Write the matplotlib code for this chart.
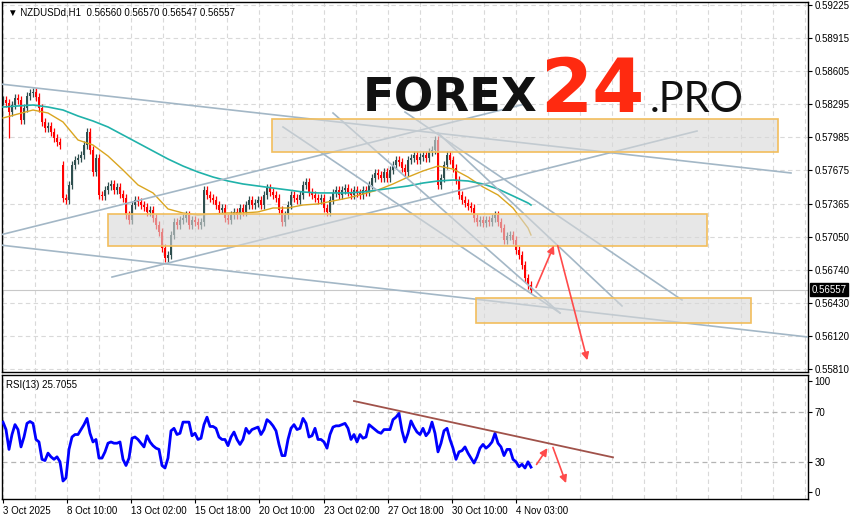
import numpy as np
import matplotlib.pyplot as plt
from matplotlib.patches import Rectangle, FancyArrowPatch
from matplotlib.transforms import blended_transform_factory

plt.rcParams['font.family'] = ['Liberation Sans', 'DejaVu Sans']

# ---- data (NZDUSD H1, one value per 3 hours) ----
closes = [0.58335, 0.58307, 0.58222, 0.58288, 0.58354, 0.58335, 0.58147, 0.58260, 0.58372, 0.58400,
          0.58410, 0.58363, 0.58260, 0.58129, 0.58073, 0.58091, 0.58035, 0.57979, 0.57941, 0.57913,
          0.57417, 0.57398, 0.57539, 0.57726, 0.57773, 0.57791, 0.57819, 0.57913, 0.58035, 0.57866,
          0.57660, 0.57791, 0.57445, 0.57436, 0.57492, 0.57529, 0.57548, 0.57492, 0.57520, 0.57454,
          0.57417, 0.57258, 0.57210, 0.57351, 0.57398, 0.57379, 0.57351, 0.57333, 0.57286, 0.57304,
          0.57229, 0.57164, 0.57098, 0.56948, 0.56855, 0.56883, 0.57070, 0.57192, 0.57164, 0.57210,
          0.57229, 0.57258, 0.57164, 0.57210, 0.57192, 0.57164, 0.57192, 0.57492, 0.57445, 0.57417,
          0.57398, 0.57351, 0.57304, 0.57323, 0.57229, 0.57210, 0.57258, 0.57286, 0.57258, 0.57323,
          0.57286, 0.57351, 0.57398, 0.57351, 0.57370, 0.57398, 0.57351, 0.57445, 0.57510, 0.57473,
          0.57445, 0.57417, 0.57304, 0.57192, 0.57258, 0.57351, 0.57445, 0.57417, 0.57398, 0.57445,
          0.57539, 0.57567, 0.57473, 0.57445, 0.57417, 0.57398, 0.57417, 0.57323, 0.57286, 0.57398,
          0.57464, 0.57492, 0.57445, 0.57492, 0.57510, 0.57473, 0.57445, 0.57492, 0.57464, 0.57445,
          0.57492, 0.57473, 0.57539, 0.57604, 0.57651, 0.57632, 0.57604, 0.57660, 0.57604, 0.57679,
          0.57726, 0.57773, 0.57754, 0.57698, 0.57660, 0.57773, 0.57791, 0.57819, 0.57773, 0.57801,
          0.57819, 0.57791, 0.57848, 0.57866, 0.57960, 0.57539, 0.57604, 0.57726, 0.57819, 0.57773,
          0.57698, 0.57585, 0.57445, 0.57398, 0.57370, 0.57342, 0.57323, 0.57229, 0.57192, 0.57210,
          0.57182, 0.57210, 0.57192, 0.57229, 0.57258, 0.57192, 0.57136, 0.57023, 0.57061, 0.57070,
          0.57023, 0.56930, 0.56883, 0.56789, 0.56667, 0.56601, 0.56557]
first_open = 0.58320
gap_open = {20: 0.57726}          # Monday gap candle
spike_low = {2: 0.57979}

# moving averages, every 5th bar (last point = last bar)
ma_fast = [0.58166, 0.58204, 0.58241, 0.58213, 0.58129, 0.57960, 0.57913, 0.57810, 0.57679, 0.57539,
           0.57464, 0.57314, 0.57276, 0.57257, 0.57267, 0.57276, 0.57276, 0.57286, 0.57323, 0.57323,
           0.57351, 0.57361, 0.57389, 0.57417, 0.57454, 0.57492, 0.57548, 0.57613, 0.57670, 0.57716,
           0.57688, 0.57613, 0.57520, 0.57445, 0.57323, 0.57136, 0.57070]
ma_slow = [0.58269, 0.58279, 0.58288, 0.58269, 0.58241, 0.58185, 0.58138, 0.58082, 0.58007, 0.57932,
           0.57857, 0.57782, 0.57716, 0.57660, 0.57613, 0.57576, 0.57548, 0.57529, 0.57510, 0.57492,
           0.57473, 0.57464, 0.57464, 0.57464, 0.57473, 0.57492, 0.57510, 0.57529, 0.57557, 0.57576,
           0.57585, 0.57576, 0.57548, 0.57501, 0.57436, 0.57370, 0.57351]

rsi = [62, 56, 40, 52, 60, 56, 42, 50, 61, 62.5, 61, 48, 46, 32, 31, 37, 34, 32, 34, 30,
       14.5, 17, 40, 50, 52, 52, 56, 60, 65, 53, 46, 48, 33, 33, 38, 45, 46, 45, 45, 46,
       32, 27, 33, 49, 50, 48, 45, 42, 51, 46, 43, 41, 40, 27, 25, 33, 55, 57, 52, 53,
       62, 62, 62, 51, 53, 48, 49, 60, 66, 58.5, 58.5, 57, 50, 48, 48, 43, 50, 54, 48, 44,
       48, 57, 53, 56, 57, 58, 52, 56, 64, 62,
       59, 55, 44, 35, 35, 48, 57, 60, 56, 57, 65, 61, 50, 51, 57, 48, 48, 46, 41, 52,
       58, 59, 59, 60, 61, 57, 48, 52, 46, 52, 49, 50, 60, 58, 56, 54, 53, 56, 56, 56,
       64, 66, 69, 55, 46, 53, 63, 58, 54, 52, 57, 51, 54, 62, 53, 38, 45, 55, 57, 48,
       41, 32, 38, 39, 42, 37, 33, 29, 34, 41, 44, 41, 43, 46, 53, 45, 42, 35, 40, 40,
       32, 30, 26, 28, 25, 30, 25.7]

price_ticks = [0.59225, 0.58915, 0.58605, 0.58295, 0.57985, 0.57675, 0.57365,
               0.57050, 0.56740, 0.56430, 0.56120, 0.55810]
date_labels = ['3 Oct 2025', '8 Oct 10:00', '13 Oct 02:00', '15 Oct 18:00', '20 Oct 10:00',
               '23 Oct 02:00', '27 Oct 18:00', '30 Oct 10:00', '4 Nov 03:00']

# zones: (x start, x end, low price, high price) in bar-hours
zones = [(272, 778, 0.57848, 0.58157), (108, 707, 0.56967, 0.57267), (476, 751, 0.56245, 0.56480)]
# trend lines: (x1, p1, x2, p2)
trend_lines = [(0, 0.58485, 791, 0.57651), (0, 0.56976, 808, 0.56114), (0, 0.57070, 525, 0.58297),
               (112, 0.56676, 697, 0.58044), (283, 0.58082, 560, 0.56339), (333, 0.58213, 560, 0.56339),
               (438, 0.58026, 622, 0.56405), (405, 0.58222, 682, 0.56461)]
price_arrows = [(535, 0.56555, 555, 0.56995), (557, 0.56995, 588, 0.55871)]
rsi_trend = (354, 79.0, 613, 33.6)
rsi_arrows = [(535, 26.0, 549, 42.9), (552, 43.7, 567, 10.7)]

W, H = 854, 520
fig = plt.figure(figsize=(W / 100, H / 100), dpi=100)
ax = fig.add_axes([2 / W, 1 - 371.5 / H, 806 / W, 369.5 / H])
ax2 = fig.add_axes([2 / W, 1 - 499 / H, 806 / W, 124 / H])

n = len(closes)
xs = 3 + 3 * np.arange(n)
opens = [first_open] + closes[:-1]
for k, v in gap_open.items():
    opens[k] = v
opens = np.array(opens)
cl = np.array(closes)
hi = np.maximum(opens, cl) + 0.00035
lo = np.minimum(opens, cl) - 0.00035
for k, v in spike_low.items():
    lo[k] = v
up = cl >= opens
cols = np.where(up, '#2F4F4F', '#FF0000')

grid_x = 2.9 + 32.07 * np.arange(26)
for a in (ax, ax2):
    for gx in grid_x:
        a.axvline(gx, color='#D9D9D9', lw=0.8, ls=(0, (4, 3)), zorder=0)
for p in price_ticks:
    ax.axhline(p, color='#D9D9D9', lw=0.8, ls=(0, (4, 3)), zorder=0)

ax.vlines(xs, lo, hi, colors=cols, lw=0.9, zorder=2)
ax.bar(xs, np.abs(cl - opens) + 0.00003, bottom=np.minimum(opens, cl), width=2.2,
       color=cols, zorder=2)

ma_x = list(xs[::5]) + [xs[-1]]
ax.plot(ma_x, ma_fast, color='#DAA520', lw=1, zorder=3)
ax.plot(ma_x, ma_slow, color='#20B2AA', lw=1.2, zorder=3)

for x1, p1, x2, p2 in trend_lines:
    ax.plot([x1, x2], [p1, p2], color='#A3B7C6', lw=1.2, zorder=3.5, clip_on=True)

for x1, x2, plo, phi in zones:
    ax.add_patch(Rectangle((x1, plo), x2 - x1, phi - plo, facecolor='#D8D8D8', alpha=0.6,
                           edgecolor='none', zorder=4))
    ax.add_patch(Rectangle((x1, plo), x2 - x1, phi - plo, facecolor='none',
                           edgecolor='#F2BE5C', lw=1.2, zorder=4.1))

for x1, p1, x2, p2 in price_arrows:
    ax.add_patch(FancyArrowPatch((x1, p1), (x2, p2), arrowstyle='-|>', mutation_scale=11,
                                 color='#FF4A4A', lw=1.2, zorder=6))

ax.axhline(closes[-1], color='#C8C8C8', lw=0.8, zorder=1)

ax.set_xlim(2, 808)
ax.set_ylim(0.55791, 0.59253)
ax.set_xticks([])
ax.yaxis.tick_right()
ax.set_yticks(price_ticks)
ax.set_yticklabels(['%.5f' % p for p in price_ticks])
ax.tick_params(axis='y', length=3, width=0.8, labelsize=7, pad=1.5, colors='black')
for s in ax.spines.values():
    s.set_color('black')
    s.set_linewidth(1)

tr = blended_transform_factory(ax.transAxes, ax.transData)
ax.text(1.004, closes[-1], '%.5f' % closes[-1], transform=tr, va='center', ha='left',
        fontsize=7, color='white', zorder=10,
        bbox=dict(boxstyle='square,pad=0.15', fc='black', ec='black'))

ax.text(0.008, 0.985, '\u25bc NZDUSDd,H1  0.56560 0.56570 0.56547 0.56557', transform=ax.transAxes,
        fontsize=7, va='top', ha='left')

# logo
fig.text(363 / W, 1 - 112 / H, 'FOREX', fontsize=33.5, fontfamily='DejaVu Sans', fontweight='bold',
         color='#111111', va='baseline', ha='left')
fig.text(540 / W, 1 - 112 / H, '24', fontsize=54, fontfamily='DejaVu Sans', fontweight='bold',
         color='#FF2A10', va='baseline', ha='left')
fig.text(650 / W, 1 - 112 / H, '.PRO', fontsize=30, fontfamily='Lato', fontweight='normal',
         color='#111111', va='baseline', ha='left')

# RSI panel
ax2.plot(xs, rsi, color='#0000FF', lw=2, zorder=3)
ax2.axhline(70, color='#B4B4B4', lw=0.9, ls=(0, (4, 3)), zorder=1)
ax2.axhline(30, color='#B4B4B4', lw=0.9, ls=(0, (4, 3)), zorder=1)
x1, r1, x2, r2 = rsi_trend
ax2.plot([x1, x2], [r1, r2], color='#A0524A', lw=1.3, zorder=4)
for x1, r1, x2, r2 in rsi_arrows:
    ax2.add_patch(FancyArrowPatch((x1, r1), (x2, r2), arrowstyle='-|>', mutation_scale=11,
                                  color='#FF4A4A', lw=1.2, zorder=6))
ax2.set_xlim(2, 808)
ax2.set_ylim(0, 100)
ax2.yaxis.tick_right()
ax2.set_yticks([95.2, 70, 30, 5.9])
ax2.set_yticklabels(['100', '70', '30', '0'])
ax2.tick_params(axis='y', length=3, width=0.8, labelsize=7, pad=1.5)
date_x = [3] + list(67 + 64.14 * np.arange(len(date_labels) - 1))
ax2.set_xticks(date_x)
ax2.set_xticklabels(date_labels, ha='left')
ax2.tick_params(axis='x', length=3, width=0.8, labelsize=7, pad=2)
for s in ax2.spines.values():
    s.set_color('black')
    s.set_linewidth(1)
ax2.text(0.005, 0.96, 'RSI(13) 25.7055', transform=ax2.transAxes, fontsize=7, va='top', ha='left')

fig.savefig('out.png', dpi=100)
